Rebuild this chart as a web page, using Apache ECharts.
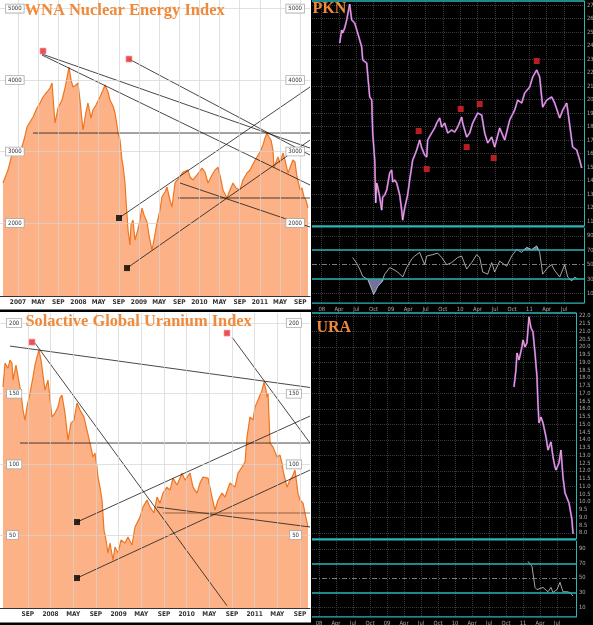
<!DOCTYPE html>
<html><head><meta charset="utf-8">
<script src="https://cdn.jsdelivr.net/npm/echarts@6/dist/echarts.min.js"></script>
<style>html,body{margin:0;padding:0;background:#fff}#c{width:593px;height:625px}</style>
</head><body><div id="c"></div>
<script>
// All x values are months counted from January 2007 (0 = Jan 2007, 12 = Jan 2008 ...)
const wnaMonth = [-2.98,-1.98,-0.99,0.40,1.19,1.79,2.38,2.98,3.77,4.37,4.96,5.75,6.35,6.75,7.34,7.94,8.73,9.33,10.12,10.52,10.91,11.51,11.90,12.30,12.90,13.49,13.89,14.48,14.88,15.48,16.27,16.87,17.26,17.86,18.25,18.85,19.25,19.64,19.84,20.24,20.63,20.83,21.23,21.43,21.83,22.22,22.42,22.82,23.21,23.61,24.01,24.60,25.00,25.60,25.99,26.59,26.98,27.58,28.17,28.57,29.17,29.56,30.16,30.56,31.15,31.94,32.74,33.73,34.13,34.72,35.52,36.51,37.10,37.70,38.49,39.09,39.68,40.28,40.67,41.47,42.06,42.66,43.25,44.05,44.64,45.44,46.03,46.83,47.42,48.02,48.61,49.01,49.40,49.80,50.20,50.60,50.79,51.19,51.59,51.98,52.58,52.98,53.57,54.17,54.56,54.96,55.36,55.75,55.95,56.35,56.75,57.14,57.54];
const wnaValue = [2560,2741,3021,2979,3161,3343,3413,3483,3609,3679,3763,3833,3889,3959,3399,3609,3721,3889,4182,4001,3903,3931,3959,3721,3301,3553,3679,3469,3581,3651,3763,3861,3931,3833,3721,3637,3539,3371,3259,3161,2881,2811,2560,2322,1902,1692,1972,2042,1762,1860,1972,2210,2112,2014,1832,1622,1762,2000,2182,2364,2434,2504,2322,2224,2560,2630,2713,2741,2644,2602,2672,2769,2713,2560,2672,2741,2783,2602,2462,2350,2462,2560,2490,2462,2602,2700,2741,2853,2923,2993,3091,3189,3259,3203,3161,3021,2769,2853,2923,2839,2979,2881,2700,2811,2881,2853,2644,2532,2462,2490,2364,2322,2210];
const wnaTrendLines = [
  [[4.76,4364],[57.94,3049]],
  [[4.76,4350],[57.94,2532]],
  [[22.02,4294],[57.94,2951]],
  [[2.98,3259],[57.94,3259]],
  [[20.04,2070],[57.94,3903]],
  [[21.63,1370],[57.94,3161]],
  [[32.14,2560],[57.94,1944]],
  [[31.75,2350],[57.94,2350]]
];
const wnaRedMarks = [[4.96,4406],[22.02,4294]];
const wnaBlackMarks = [[20.04,2070],[21.63,1370]];

const solMonth = [3.62,3.97,4.50,4.85,5.20,5.38,5.91,6.26,6.79,7.14,7.50,7.85,8.38,8.91,9.26,9.61,9.96,10.32,10.49,11.02,11.55,11.90,12.26,12.79,13.32,13.67,14.02,14.55,15.08,15.61,16.14,16.67,17.20,17.90,18.43,18.96,19.49,19.84,20.19,20.37,20.72,21.08,21.43,21.78,22.13,22.49,23.02,23.37,23.90,24.43,25.13,25.66,26.37,26.90,27.78,28.31,29.01,29.54,30.25,30.78,31.31,31.83,32.54,33.07,33.60,34.30,35.19,35.71,36.60,37.13,37.83,38.36,38.89,39.77,40.48,41.01,41.53,42.24,42.77,43.65,44.53,45.06,45.77,46.30,46.65,47.18,47.71,48.06,48.59,49.30,49.66,50.01,50.19,50.36,50.71,51.24,51.94,52.47,52.82,53.00,53.70,54.23,54.59,55.11,55.64,56.00,56.53,56.88,57.41];
const solValue = [154.7,171.6,168,173.8,171.6,159.6,170.2,171.6,150.4,138.4,131.3,140.5,150.4,161.7,170.2,175.9,180.8,173.8,168.8,152.5,159.6,146.9,133.5,136.3,140.5,146.9,149,136.3,117.2,129.2,131.3,143.4,138.4,133.5,124.3,115.1,105.2,108,98.1,91,83.9,74.8,53.5,46.5,37.3,44.3,32.3,41.5,37.3,46.5,44.3,48.6,42.9,55.7,62.7,69.8,74.8,69.8,65.6,76.9,72.6,79.7,83.9,81.8,90.3,85.4,93.8,88.9,93.8,83.9,79.7,86.8,91,90.3,76.9,67.7,74.8,79.7,76.9,86.8,83.9,93.8,98.1,101.6,119.3,133.5,131.3,140.5,145.5,152.5,158.2,152.5,147.6,150.4,115.1,112.2,105.2,106.6,100.9,96,83.9,88.9,91,96,79.7,74.8,72.6,65.6,55.7];
const solTrendLines = [
  [[4.85,183.7],[57.76,154.4]],
  [[9.26,185.8],[43.12,0]],
  [[44.0,190],[57.76,115.1]],
  [[6.61,115.1],[57.76,115.1]],
  [[16.67,59.2],[57.76,134.2]],
  [[16.67,19.6],[57.76,96]],
  [[30.78,69.8],[57.76,55.7]]
];
const solBrownLine = [[31.83,65.6],[57.76,65.6]];
const solRedMarks = [[8.73,186.5],[43.12,192.9]];
const solBlackMarks = [[16.67,59.2],[16.67,19.6]];

const pknMonth = [15.12,15.47,15.64,15.99,16.33,16.85,17.20,17.72,18.24,18.59,18.93,19.11,19.80,20.32,20.67,20.84,21.19,21.27,21.36,21.53,21.71,22.05,22.40,22.57,22.92,23.27,23.79,24.13,24.31,24.65,25.00,25.17,25.52,25.86,26.04,26.38,26.90,27.25,27.77,28.13,28.46,28.98,29.33,29.50,29.85,30.20,30.37,31.06,31.58,31.93,32.45,32.80,33.32,33.84,34.53,35.05,35.57,36.26,36.44,37.13,37.65,38.17,39.04,39.73,40.25,40.77,41.46,41.98,42.85,43.72,44.58,45.45,45.97,46.66,47.18,48.05,48.57,49.26,49.78,50.30,51.00,51.86,52.38,53.25,53.77,54.46,54.64,55.33,55.50,56.20,56.71,57.06];
const pknValue = [24.19,25.15,24.93,25.30,25.89,27.07,25.89,25.67,24.93,24.41,23.89,22.93,22.70,20.19,19.96,17.52,15.52,14.04,12.33,13.81,13.52,12.78,11.81,12.78,12.93,13.30,14.56,14.78,13.89,14.04,13.81,13.52,12.93,11.81,11.07,11.96,12.93,14.04,15.52,15.89,16.26,17.00,16.41,16.26,15.89,15.74,17.00,17.52,17.89,18.26,18.63,17.96,18.26,17.52,17.74,17.59,17.96,18.70,18.26,17.22,17.52,18.26,19.00,18.85,17.52,16.78,17.22,16.48,17.89,17.00,18.48,19.22,19.96,19.74,20.48,20.93,21.67,22.19,21.67,19.44,19.96,20.19,19.74,18.63,19.22,19.74,19.22,17.00,16.48,16.26,15.52,14.93];
const pknRedMarks = [[28.81,17.67],[36.09,19.30],[39.38,19.67],[49.26,22.85],[37.13,16.48],[41.81,15.67],[30.20,14.85]];
const pknRsiMonth = [17.37,18.07,18.59,19.11,19.97,20.67,21.01,21.36,21.71,22.40,22.92,23.79,24.31,25.17,26.04,26.73,27.60,28.13,28.98,29.85,30.20,31.24,32.10,32.80,33.66,34.53,35.57,36.26,37.13,38.00,38.86,39.38,39.90,40.77,41.46,41.98,42.85,44.06,44.93,45.80,46.66,47.53,48.40,49.26,49.78,50.30,51.16,51.86,52.38,53.25,54.11,54.64,55.33,55.85,56.37];
const pknRsiValue = [60,52,44,34,30,16,9,14,20,26,37,46,44,40,33,46,58,62,67,50,62,64,66,60,50,53,60,62,44,53,64,60,40,37,53,40,55,48,62,71,67,74,71,76,67,37,46,50,42,33,50,33,28,33,30];

const uraMonth = [46.39,46.74,46.92,47.27,47.80,47.98,48.33,48.68,49.04,49.39,49.74,50.10,50.45,50.62,50.80,51.15,51.51,52.04,52.39,52.92,53.27,53.62,53.80,54.33,54.68,55.03,55.39,55.74,56.09,56.62,56.80];
const uraValue = [17.42,18.52,19.61,19.16,20.00,20.45,20.00,20.26,21.94,21.23,20.97,19.61,18.06,16.39,15.10,15.48,15.10,14.19,13.35,13.87,12.90,12.26,12.06,12.52,13.35,11.61,10.58,10.26,9.94,8.84,7.94];
const uraRsiMonth = [48.86,49.57,50.10,50.45,51.51,52.39,52.92,53.27,53.98,54.51,55.03,55.74,56.27,56.80];
const uraRsiValue = [73,66,37,34,37,31,37,30,34,44,31,31,30,25];

// Tick labels
const leftTickMonths = [0,4,8,12,16,20,24,28,32,36,40,44,48,52,56];
const leftTickLabels = ['2007','MAY','SEP','2008','MAY','SEP','2009','MAY','SEP','2010','MAY','SEP','2011','MAY','SEP'];
const solTickMonths = [8,12,16,20,24,28,32,36,40,44,48,52,56];
const rightTickMonths = [12,15,18,21,24,27,30,33,36,39,42,45,48,51,54];
const rightTickLabels = ['08','Apr','Jul','Oct','09','Apr','Jul','Oct','10','Apr','Jul','Oct','11','Apr','Jul'];
const wnaYTicks = [2000,3000,4000,5000];
const solYTicks = [50,100,150,200];
const pknYTicks = [11,12,13,14,15,16,17,18,19,20,21,22,23,24,25,26,27];
const uraYLabels = [8,8.5,9,9.5,10,10.5,11,11.5,12,12.5,13,13.5,14,14.5,15,15.5,16,16.5,17,17.5,18,18.5,19,19.5,20,20.5,21,21.5,22];
const uraYGrid = [8,9,10,11,12,13,14,15,16,17,18,19,20,21,22];
const rsiLabels = [10,30,50,70,90];
const rsiGrid = [10,90];

const zip = (xs, ys) => xs.map((x, i) => [x, ys[i]]);
const pkn = zip(pknMonth, pknValue);
const pknRsi = zip(pknRsiMonth, pknRsiValue);
const ura = zip(uraMonth, uraValue);
const uraRsi = zip(uraRsiMonth, uraRsiValue);

const ORANGE = '#f08a3a';
const TEAL = '#2db4b4';
const GRIDL = 'rgba(212,212,212,0.7)';
const NARROW = "'Liberation Sans Narrow','DejaVu Sans Condensed','Liberation Sans',sans-serif";
const leftFmt = v => leftTickLabels[leftTickMonths.indexOf(Math.round(v))] || '';
const rightFmt = v => rightTickLabels[rightTickMonths.indexOf(Math.round(v))] || '';

function leftX(gi, min, max, ticks) {
  return {gridIndex: gi, type: 'value', min, max, z: 5,
    axisLine: {show: true, onZero: false, lineStyle: {color: '#333', width: 1}},
    axisTick: {show: false, customValues: ticks},
    axisLabel: {customValues: ticks, formatter: leftFmt, fontSize: 6.5, fontWeight: 'bold', color: '#333', margin: 3, fontFamily: NARROW},
    splitLine: {show: true, lineStyle: {color: GRIDL, width: 1}}};
}
function leftY(gi, min, max, ticks, pos, margin, split) {
  return {gridIndex: gi, type: 'value', min, max, position: pos, z: 8,
    axisLine: {show: false}, axisTick: {show: false, customValues: ticks},
    axisLabel: {customValues: ticks, formatter: v => String(v), inside: true, margin, fontSize: 6, color: '#333', fontFamily: NARROW,
      backgroundColor: '#fff', borderColor: '#aaa', borderWidth: 0.8, padding: [1, 2, 1, 2]},
    splitLine: {show: split, lineStyle: {color: GRIDL, width: 1}}};
}
function darkX(gi, min, max, showLabels) {
  return {gridIndex: gi, type: 'value', min, max,
    axisLine: {show: false}, axisTick: {show: false, customValues: rightTickMonths},
    axisLabel: {show: showLabels, customValues: rightTickMonths, formatter: rightFmt, fontSize: 5.8, color: '#aaa', margin: 3, fontFamily: NARROW},
    splitLine: {show: true, lineStyle: {color: '#3a3a3a', width: 1, type: 'dotted'}}};
}
function darkY(gi, min, max, labels, grid, fmt) {
  return {gridIndex: gi, type: 'value', min, max, position: 'right',
    axisLine: {show: true, onZero: false, lineStyle: {color: TEAL, width: 1}},
    axisTick: {show: false, customValues: grid},
    axisLabel: {customValues: labels, formatter: fmt, fontSize: 5.8, color: '#aaa', margin: 3, fontFamily: NARROW},
    splitLine: {show: true, lineStyle: {color: '#3a3a3a', width: 1, type: 'dotted'}}};
}
function trend(xi, yi, pts, color) {
  return {type: 'line', xAxisIndex: xi, yAxisIndex: yi, data: pts, symbol: 'none', silent: true, z: 4,
    lineStyle: {color: color || '#1a1a1a', width: 0.8}};
}
function marks(xi, yi, pts, color, border) {
  return {type: 'scatter', xAxisIndex: xi, yAxisIndex: yi, data: pts, symbol: 'rect', symbolSize: 6, silent: true, z: 6,
    itemStyle: {color, borderColor: border, borderWidth: border ? 0.8 : 0}};
}
function rsiMarkLine() {
  return {silent: true, symbol: 'none', label: {show: false},
    data: [
      {yAxis: 70, lineStyle: {color: TEAL, width: 1.5, type: 'solid'}},
      {yAxis: 30, lineStyle: {color: TEAL, width: 1.5, type: 'solid'}},
      {yAxis: 50, lineStyle: {color: '#9a9a9a', width: 0.8, type: [5, 2, 1, 2]}}
    ]};
}
function priceLines(xi, yi, pts) {
  return [
    {type: 'line', xAxisIndex: xi, yAxisIndex: yi, data: pts, symbol: 'none', silent: true, z: 3, lineStyle: {color: '#4a4aff', width: 2}},
    {type: 'line', xAxisIndex: xi, yAxisIndex: yi, data: pts, symbol: 'none', silent: true, z: 4, lineStyle: {color: '#d84a72', width: 1.3}},
    {type: 'line', xAxisIndex: xi, yAxisIndex: yi, data: pts, symbol: 'none', silent: true, z: 5, lineStyle: {color: '#fbe4ec', width: 0.6}}
  ];
}

const series = [];
// WNA
series.push({type: 'line', xAxisIndex: 0, yAxisIndex: 0, data: zip(wnaMonth, wnaValue), symbol: 'none', silent: true, z: 3,
  lineStyle: {color: '#ee7620', width: 1.2}, areaStyle: {color: '#fcb286', opacity: 1, origin: 'start'}});
wnaTrendLines.forEach(l => series.push(trend(0, 0, l)));
series.push(marks(0, 0, wnaRedMarks, '#e3262d', '#ff9c9c'));
series.push(marks(0, 0, wnaBlackMarks, '#000'));
// Solactive
series.push({type: 'line', xAxisIndex: 1, yAxisIndex: 2, data: zip(solMonth, solValue), symbol: 'none', silent: true, z: 3,
  lineStyle: {color: '#ee7620', width: 1.2}, areaStyle: {color: '#fcb286', opacity: 1, origin: 'start'}});
solTrendLines.forEach(l => series.push(trend(1, 2, l)));
series.push(trend(1, 2, solBrownLine, '#7a4a2e'));
series.push(marks(1, 2, solRedMarks, '#e3262d', '#ff9c9c'));
series.push(marks(1, 2, solBlackMarks, '#000'));
// PKN price
series.push(...priceLines(2, 4, pkn));
series.push(marks(2, 4, pknRedMarks, '#e3262d'));
// PKN RSI
series.push({type: 'line', xAxisIndex: 3, yAxisIndex: 5, data: pknRsi.map(p => [p[0], Math.min(p[1], 30)]), symbol: 'none', silent: true, z: 2,
  lineStyle: {width: 0, opacity: 0}, areaStyle: {color: '#72729e', opacity: 1, origin: 30}});
series.push({type: 'line', xAxisIndex: 3, yAxisIndex: 5, data: pknRsi.map(p => [p[0], Math.max(p[1], 70)]), symbol: 'none', silent: true, z: 2,
  lineStyle: {width: 0, opacity: 0}, areaStyle: {color: '#72729e', opacity: 1, origin: 70}});
series.push({type: 'line', xAxisIndex: 3, yAxisIndex: 5, data: pknRsi, symbol: 'none', silent: true, z: 4,
  lineStyle: {color: '#cfcfcf', width: 0.8}, markLine: rsiMarkLine()});
// URA price
series.push(...priceLines(4, 6, ura));
// URA RSI
series.push({type: 'line', xAxisIndex: 5, yAxisIndex: 7, data: uraRsi, symbol: 'none', silent: true, z: 4,
  lineStyle: {color: '#cfcfcf', width: 0.8}, markLine: rsiMarkLine()});

const titleStyle = (size) => ({fontFamily: "'Liberation Serif','DejaVu Serif',serif", fontWeight: 'bold', fontSize: size, color: ORANGE});

const option = {
  animation: false,
  backgroundColor: '#ffffff',
  title: [
    {text: 'WNA Nuclear Energy Index', left: 24.5, top: 2.2, padding: 0, z: 20, textStyle: titleStyle(16.5)},
    {text: 'Solactive Global Uranium Index', left: 25.5, top: 313.8, padding: 0, z: 20, textStyle: titleStyle(16.4)},
    {text: 'PKN', left: 312.5, top: 1, padding: 0, z: 20, textStyle: titleStyle(16)},
    {text: 'URA', left: 316.5, top: 319.5, padding: 0, z: 20, textStyle: titleStyle(16)}
  ],
  graphic: [
    {type: 'rect', z: -10, silent: true, shape: {x: 311, y: 0, width: 282, height: 625}, style: {fill: '#000'}},
    {type: 'rect', z: 50, silent: true, shape: {x: 0, y: 309.5, width: 311, height: 2.5}, style: {fill: '#000'}},
    {type: 'rect', z: 50, silent: true, shape: {x: 0, y: 622.5, width: 311, height: 2.5}, style: {fill: '#000'}},
    {type: 'rect', z: 50, silent: true, shape: {x: 312, y: 0.3, width: 272, height: 1.4}, style: {fill: TEAL}},
    {type: 'rect', z: 50, silent: true, shape: {x: 312, y: 225.3, width: 272, height: 2.2}, style: {fill: TEAL}},
    {type: 'rect', z: 50, silent: true, shape: {x: 312, y: 302.5, width: 272, height: 1.2}, style: {fill: TEAL}},
    {type: 'rect', z: 50, silent: true, shape: {x: 312, y: 312.3, width: 264, height: 1.4}, style: {fill: TEAL}},
    {type: 'rect', z: 50, silent: true, shape: {x: 312, y: 538.3, width: 264, height: 2.2}, style: {fill: TEAL}},
    {type: 'rect', z: 50, silent: true, shape: {x: 312, y: 616.3, width: 264, height: 1.2}, style: {fill: TEAL}}
  ],
  grid: [
    {left: 0, top: 0, width: 310, height: 296, outerBoundsMode: 'none'},
    {left: 0, top: 313, width: 310, height: 295, outerBoundsMode: 'none'},
    {left: 312, top: 1, width: 272, height: 225, outerBoundsMode: 'none'},
    {left: 312, top: 228, width: 272, height: 75, outerBoundsMode: 'none'},
    {left: 312, top: 313, width: 264, height: 226, outerBoundsMode: 'none'},
    {left: 312, top: 541, width: 264, height: 76, outerBoundsMode: 'none'}
  ],
  xAxis: [
    leftX(0, -3.57, 57.94, leftTickMonths),
    leftX(1, 3.09, 57.76, solTickMonths),
    darkX(2, 10.32, 57.46, false),
    darkX(3, 10.32, 57.46, true),
    darkX(4, 10.77, 57.33, false),
    darkX(5, 10.77, 57.33, true)
  ],
  yAxis: [
    leftY(0, 979, 5120, wnaYTicks, 'left', 6, true),
    leftY(0, 979, 5120, wnaYTicks, 'right', 6, false),
    leftY(1, -1.6, 207.1, solYTicks, 'left', 7, true),
    leftY(1, -1.6, 207.1, solYTicks, 'right', 9, false),
    darkY(2, 10.63, 27.3, pknYTicks, pknYTicks, v => String(v)),
    darkY(3, -2.8, 100.7, rsiLabels, rsiGrid, v => String(v)),
    darkY(4, 7.61, 22.19, uraYLabels, uraYGrid, v => v.toFixed(1)),
    darkY(5, -3.8, 101, rsiLabels, rsiGrid, v => String(v))
  ],
  series
};
const chart = echarts.init(document.getElementById('c'), null, {renderer: 'canvas', width: 593, height: 625});
chart.setOption(option);
</script></body></html>
